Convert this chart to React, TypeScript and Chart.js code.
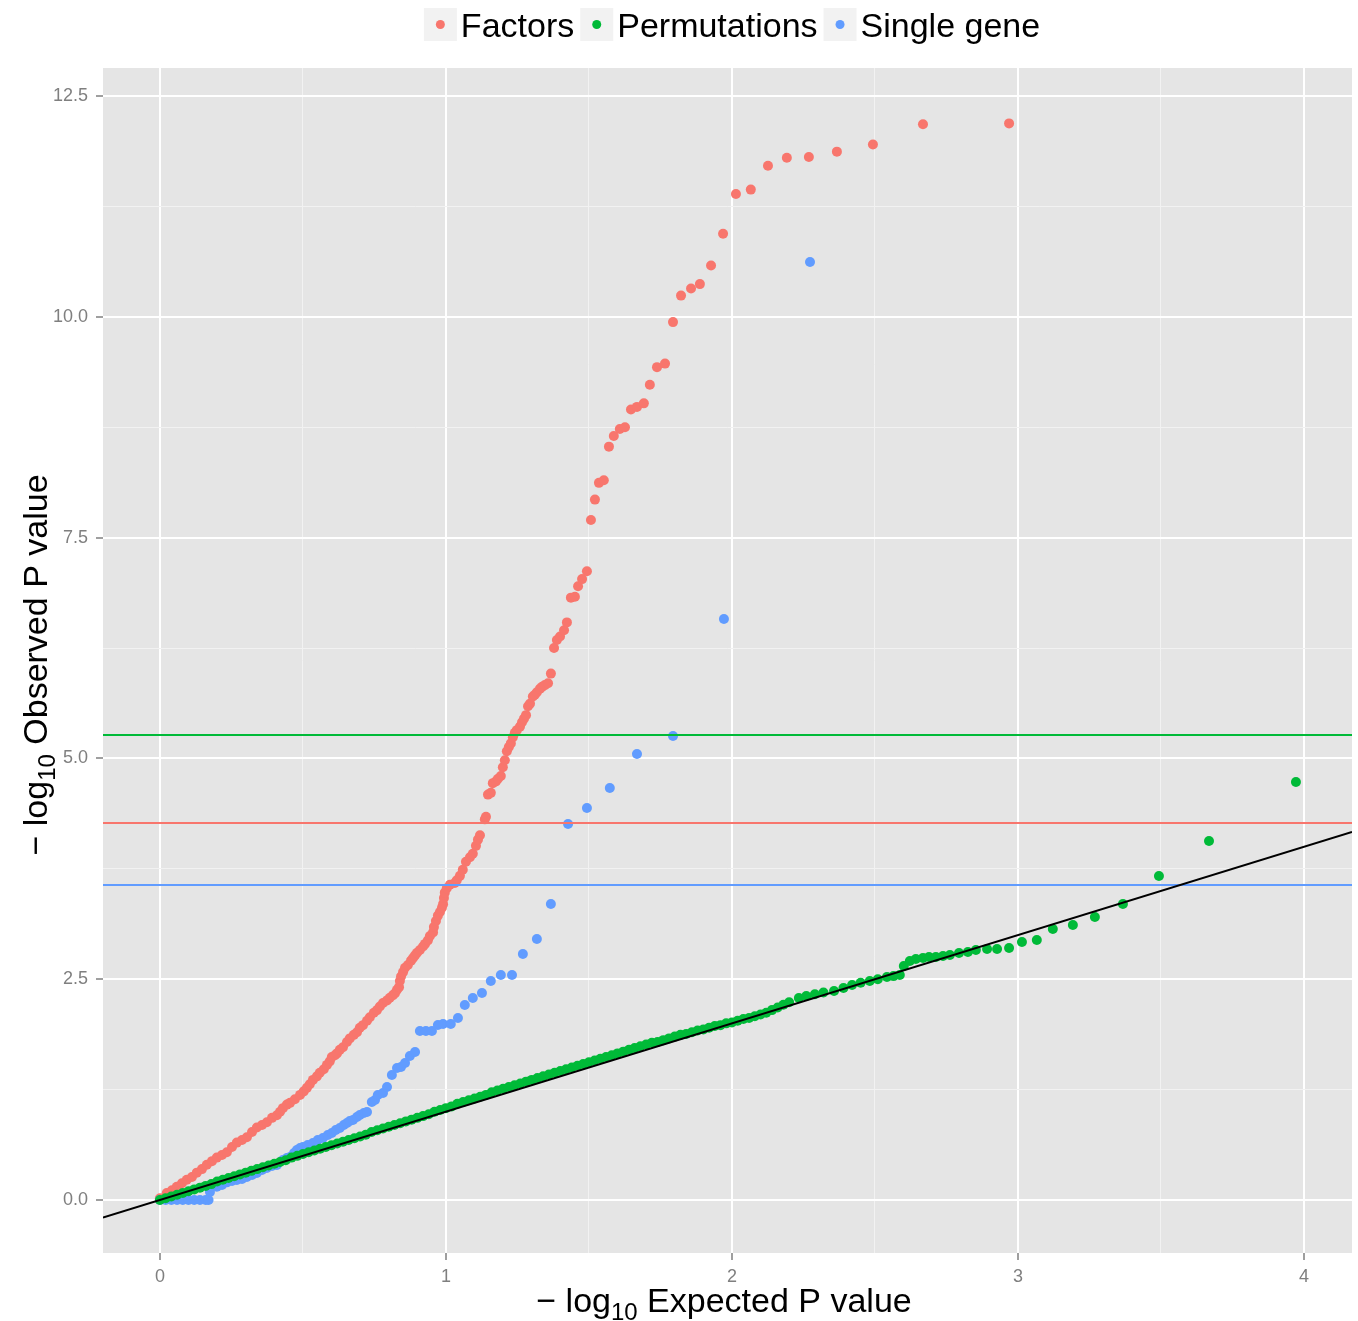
import React, { useEffect, useRef } from 'react';
import { Chart, registerables } from 'chart.js';

Chart.register(...registerables);

// ---------- data ----------
const factorsX = [
  0.0, 0.024, 0.042, 0.059, 0.077, 0.094, 0.112, 0.129, 0.147, 0.164, 0.182, 0.199, 0.217, 0.234, 0.252, 0.269,
  0.287, 0.304, 0.322, 0.339, 0.357, 0.374, 0.392, 0.409, 0.42, 0.43, 0.444, 0.455, 0.472, 0.49, 0.503, 0.514,
  0.524, 0.535, 0.549, 0.559, 0.573, 0.584, 0.594, 0.601, 0.612, 0.619, 0.629, 0.64, 0.654, 0.664, 0.678, 0.689,
  0.699, 0.71, 0.724, 0.734, 0.748, 0.759, 0.769, 0.78, 0.794, 0.804, 0.815, 0.822, 0.829, 0.836, 0.839, 0.843,
  0.85, 0.857, 0.867, 0.878, 0.885, 0.892, 0.899, 0.909, 0.92, 0.927, 0.937, 0.944, 0.955, 0.958, 0.965, 0.972,
  0.979, 0.986, 0.99, 0.993, 0.996, 1.003, 1.014, 1.031, 1.038, 1.049, 1.059, 1.07, 1.084, 1.094, 1.105, 1.112,
  1.119, 1.136, 1.14, 1.147, 1.157, 1.164, 1.175, 1.182, 1.192, 1.199, 1.206, 1.213, 1.22, 1.227, 1.234, 1.241,
  1.248, 1.259, 1.266, 1.273, 1.28, 1.287, 1.294, 1.304, 1.311, 1.318, 1.329, 1.336, 1.346, 1.357, 1.367, 1.378,
  1.388, 1.399, 1.413, 1.423, 1.437, 1.451, 1.462, 1.476, 1.493, 1.507, 1.521, 1.535, 1.552, 1.57, 1.587, 1.608,
  1.626, 1.647, 1.668, 1.692, 1.713, 1.738, 1.766, 1.794, 1.822, 1.857, 1.888, 1.927, 1.969, 2.014, 2.066, 2.126,
  2.192, 2.269, 2.367, 2.493, 2.668, 2.969,
];
const factorsY = [
  0.02, 0.08, 0.11, 0.15, 0.19, 0.23, 0.26, 0.31, 0.35, 0.4, 0.44, 0.48, 0.51, 0.54, 0.6, 0.65,
  0.68, 0.71, 0.77, 0.82, 0.85, 0.88, 0.93, 0.96, 1.0, 1.04, 1.08, 1.1, 1.14, 1.19, 1.23, 1.27,
  1.31, 1.36, 1.4, 1.44, 1.48, 1.53, 1.57, 1.62, 1.64, 1.66, 1.7, 1.73, 1.79, 1.83, 1.87, 1.9,
  1.95, 1.98, 2.03, 2.07, 2.12, 2.15, 2.19, 2.23, 2.26, 2.29, 2.32, 2.34, 2.38, 2.41, 2.48, 2.53,
  2.58, 2.63, 2.66, 2.71, 2.74, 2.77, 2.8, 2.83, 2.87, 2.9, 2.94, 2.99, 3.03, 3.09, 3.16, 3.22,
  3.26, 3.31, 3.35, 3.42, 3.48, 3.53, 3.57, 3.59, 3.62, 3.67, 3.74, 3.83, 3.88, 3.92, 4.01, 4.08,
  4.13, 4.31, 4.34, 4.59, 4.61, 4.72, 4.74, 4.77, 4.8, 4.9, 4.98, 5.08, 5.13, 5.17, 5.24, 5.29,
  5.32, 5.36, 5.41, 5.45, 5.49, 5.59, 5.62, 5.7, 5.72, 5.75, 5.79, 5.81, 5.83, 5.85, 5.96, 6.25,
  6.34, 6.38, 6.45, 6.54, 6.82, 6.83, 6.95, 7.03, 7.12, 7.7, 7.93, 8.12, 8.15, 8.53, 8.65, 8.73,
  8.75, 8.95, 8.98, 9.02, 9.23, 9.43, 9.47, 9.94, 10.24, 10.32, 10.37, 10.58, 10.94, 11.39, 11.44, 11.71,
  11.8, 11.81, 11.87, 11.95, 12.18, 12.19,
];

const singleX = [
  0.0, 0.02, 0.04, 0.06, 0.08, 0.1, 0.12, 0.14, 0.16, 0.17, 0.175, 0.199, 0.217, 0.234, 0.252, 0.269,
  0.287, 0.304, 0.322, 0.339, 0.357, 0.374, 0.392, 0.409, 0.43, 0.444, 0.455, 0.469, 0.479, 0.49, 0.5, 0.517,
  0.535, 0.552, 0.57, 0.587, 0.601, 0.615, 0.629, 0.643, 0.654, 0.664, 0.675, 0.689, 0.699, 0.713, 0.724, 0.741,
  0.752, 0.762, 0.78, 0.794, 0.811, 0.829, 0.843, 0.857, 0.874, 0.892, 0.909, 0.93, 0.951, 0.972, 0.99, 1.017,
  1.042, 1.066, 1.094, 1.126, 1.157, 1.192, 1.231, 1.269, 1.318, 1.367, 1.427, 1.493, 1.573, 1.668, 1.794, 1.972,
  2.273,
];
const singleY = [
  0, 0, 0, 0, 0, 0, 0, 0, 0, 0, 0.09, 0.15, 0.17, 0.2, 0.215, 0.226,
  0.238, 0.26, 0.283, 0.306, 0.34, 0.362, 0.385, 0.396, 0.453, 0.476, 0.487, 0.532, 0.566, 0.589, 0.6, 0.623,
  0.645, 0.679, 0.702, 0.736, 0.759, 0.793, 0.815, 0.849, 0.872, 0.894, 0.906, 0.94, 0.962, 0.985, 0.996, 1.11,
  1.132, 1.189, 1.211, 1.279, 1.415, 1.495, 1.506, 1.551, 1.63, 1.676, 1.913, 1.913, 1.913, 1.981, 1.993, 1.993,
  2.061, 2.208, 2.287, 2.344, 2.48, 2.548, 2.548, 2.785, 2.955, 3.351, 4.257, 4.438, 4.665, 5.05, 5.254, 6.578,
  10.62,
];

const permX = [
  0.0, 0.02, 0.04, 0.06, 0.08, 0.1, 0.12, 0.14, 0.16, 0.18, 0.2, 0.22, 0.24, 0.26, 0.28, 0.3,
  0.32, 0.34, 0.36, 0.38, 0.4, 0.42, 0.44, 0.46, 0.48, 0.5, 0.52, 0.54, 0.56, 0.58, 0.6, 0.62,
  0.64, 0.66, 0.68, 0.7, 0.72, 0.74, 0.76, 0.78, 0.8, 0.82, 0.84, 0.86, 0.88, 0.9, 0.92, 0.94,
  0.96, 0.98, 1.0, 1.02, 1.04, 1.06, 1.08, 1.1, 1.12, 1.14, 1.16, 1.18, 1.2, 1.22, 1.24, 1.26,
  1.28, 1.3, 1.32, 1.34, 1.36, 1.38, 1.4, 1.42, 1.44, 1.46, 1.48, 1.5, 1.52, 1.54, 1.56, 1.58,
  1.6, 1.62, 1.64, 1.66, 1.68, 1.7, 1.72, 1.74, 1.76, 1.78, 1.8, 1.82, 1.84, 1.86, 1.88, 1.9,
  1.92, 1.94, 1.96, 1.98, 2.0, 2.02, 2.04, 2.06, 2.08, 2.1, 2.12, 2.14, 2.16, 2.18, 2.2, 2.234,
  2.26, 2.29, 2.32, 2.357, 2.39, 2.42, 2.45, 2.482, 2.51, 2.542, 2.565, 2.587, 2.601, 2.622, 2.643, 2.668,
  2.689, 2.713, 2.738, 2.762, 2.794, 2.825, 2.853, 2.892, 2.927, 2.969, 3.014, 3.066, 3.122, 3.192, 3.269, 3.367,
  3.493, 3.668, 3.972,
];
const permY = [
  0.0, 0.02, 0.04, 0.06, 0.08, 0.1, 0.12, 0.14, 0.16, 0.18, 0.21, 0.23, 0.25, 0.27, 0.29, 0.31,
  0.33, 0.35, 0.37, 0.39, 0.41, 0.43, 0.45, 0.48, 0.5, 0.52, 0.54, 0.56, 0.58, 0.6, 0.62, 0.64,
  0.66, 0.68, 0.7, 0.72, 0.74, 0.77, 0.79, 0.81, 0.83, 0.85, 0.87, 0.89, 0.91, 0.93, 0.95, 0.97,
  1.0, 1.02, 1.04, 1.06, 1.09, 1.11, 1.13, 1.15, 1.17, 1.19, 1.22, 1.24, 1.26, 1.28, 1.3, 1.32,
  1.34, 1.36, 1.38, 1.4, 1.42, 1.44, 1.46, 1.48, 1.5, 1.52, 1.54, 1.56, 1.58, 1.6, 1.62, 1.64,
  1.66, 1.68, 1.7, 1.72, 1.74, 1.76, 1.78, 1.79, 1.81, 1.83, 1.85, 1.87, 1.88, 1.9, 1.92, 1.93,
  1.95, 1.97, 1.98, 2.0, 2.01, 2.03, 2.05, 2.06, 2.08, 2.1, 2.12, 2.15, 2.18, 2.21, 2.24, 2.287,
  2.31, 2.33, 2.35, 2.366, 2.4, 2.434, 2.46, 2.48, 2.5, 2.525, 2.535, 2.548, 2.649, 2.706, 2.729, 2.74,
  2.751, 2.751, 2.763, 2.774, 2.797, 2.808, 2.831, 2.842, 2.842, 2.853, 2.921, 2.944, 3.068, 3.114, 3.204, 3.351,
  3.668, 4.065, 4.733,
];

// significance thresholds (horizontal lines)
const thresholdPermutations = 5.265;
const thresholdFactors = 4.27;
const thresholdSingle = 3.567;

// axis ranges and ticks
const xMin = -0.199;
const xMax = 4.168;
const yMin = -0.6;
const yMax = 12.817;
const xMajorTicks = [0, 1, 2, 3, 4];
const xMinorTicks = [0.5, 1.5, 2.5, 3.5];
const yMajorTicks = [0, 2.5, 5, 7.5, 10, 12.5];
const yMinorTicks = [1.25, 3.75, 6.25, 8.75, 11.25];

const seriesNames = ['Factors', 'Permutations', 'Single gene'];
const seriesColors = ['#F8766D', '#00BA38', '#619CFF'];

const FONT = '"Liberation Sans", Arial, Helvetica, sans-serif';

const zip = (xs: number[], ys: number[]) => xs.map((x, i) => ({ x, y: ys[i] }));
const hline = (y: number) => [
  { x: xMin, y },
  { x: xMax, y },
];

function drawLogTitle(ctx: CanvasRenderingContext2D, rest: string, x: number, y: number, rotate: boolean) {
  const big = `34px ${FONT}`;
  const small = `24px ${FONT}`;
  const parts = [
    { t: '\u2212 log', f: big, dy: 0 },
    { t: '10', f: small, dy: 8 },
    { t: ' ' + rest, f: big, dy: 0 },
  ];
  const widths = parts.map((p) => {
    ctx.font = p.f;
    return ctx.measureText(p.t).width;
  });
  const total = widths.reduce((a, b) => a + b, 0);
  ctx.save();
  ctx.translate(x, y);
  if (rotate) ctx.rotate(-Math.PI / 2);
  ctx.fillStyle = '#000000';
  ctx.textBaseline = 'alphabetic';
  ctx.textAlign = 'left';
  let cx = -total / 2;
  parts.forEach((p, i) => {
    ctx.font = p.f;
    ctx.fillText(p.t, cx, p.dy);
    cx += widths[i];
  });
  ctx.restore();
}

const decorPlugin = {
  id: 'ggDecor',
  beforeDraw(chart: any) {
    const { ctx, chartArea } = chart;
    ctx.save();
    ctx.fillStyle = '#ffffff';
    ctx.fillRect(0, 0, chart.width, chart.height);
    ctx.fillStyle = '#E5E5E5';
    ctx.fillRect(chartArea.left, chartArea.top, chartArea.right - chartArea.left, chartArea.bottom - chartArea.top);
    ctx.restore();
  },
  afterDraw(chart: any) {
    const { ctx } = chart;
    // axis titles
    drawLogTitle(ctx, 'Expected P value', 724, 1312, false);
    drawLogTitle(ctx, 'Observed P value', 47, 665, true);
    // legend
    ctx.save();
    ctx.font = `34px ${FONT}`;
    const key = 33;
    const gapKeyText = 4;
    const gapItems = 6;
    const widths = seriesNames.map((n) => ctx.measureText(n).width);
    const total = widths.reduce((a, b) => a + b, 0) + seriesNames.length * (key + gapKeyText) + (seriesNames.length - 1) * gapItems;
    let x = 732 - total / 2;
    const top = 8;
    seriesNames.forEach((name, i) => {
      ctx.fillStyle = '#F2F2F2';
      ctx.fillRect(x, top, key, key);
      ctx.fillStyle = seriesColors[i];
      ctx.beginPath();
      ctx.arc(x + key / 2, top + key / 2, 4.5, 0, Math.PI * 2);
      ctx.fill();
      ctx.fillStyle = '#000000';
      ctx.textBaseline = 'alphabetic';
      ctx.textAlign = 'left';
      ctx.fillText(name, x + key + gapKeyText, top + key / 2 + 12);
      x += key + gapKeyText + widths[i] + gapItems;
    });
    ctx.restore();
  },
};

const isIn = (arr: number[], v: number) => arr.some((a) => Math.abs(a - v) < 1e-6);

export default function App() {
  const ref = useRef<HTMLCanvasElement | null>(null);
  useEffect(() => {
    document.body.style.margin = '0';
    const canvas = ref.current;
    if (!canvas) return;
    const pointDs = (label: string, data: any[], color: string, order: number) => ({
      label,
      data,
      backgroundColor: color,
      borderColor: color,
      pointRadius: 5,
      pointBorderWidth: 0,
      pointHoverRadius: 5,
      showLine: false,
      order,
    });
    const lineDs = (label: string, data: any[], color: string, width: number) => ({
      label,
      data,
      borderColor: color,
      backgroundColor: color,
      borderWidth: width,
      pointRadius: 0,
      showLine: true,
      fill: false,
      order: 0,
    });
    const chart = new Chart(canvas, {
      type: 'scatter',
      data: {
        datasets: [
          lineDs('yx', [{ x: xMin, y: xMin }, { x: xMax, y: xMax }], '#000000', 2),
          lineDs('thrPerm', hline(thresholdPermutations), seriesColors[1], 2),
          lineDs('thrFactors', hline(thresholdFactors), seriesColors[0], 2),
          lineDs('thrSingle', hline(thresholdSingle), seriesColors[2], 2),
          pointDs(seriesNames[1], zip(permX, permY), seriesColors[1], 1),
          pointDs(seriesNames[2], zip(singleX, singleY), seriesColors[2], 2),
          pointDs(seriesNames[0], zip(factorsX, factorsY), seriesColors[0], 3),
        ] as any,
      },
      plugins: [decorPlugin],
      options: {
        animation: false,
        responsive: false,
        maintainAspectRatio: false,
        devicePixelRatio: 1,
        events: [],
        layout: { padding: { top: 68, right: 6, left: 0, bottom: 0 } },
        plugins: { legend: { display: false }, tooltip: { enabled: false } },
        scales: {
          x: {
            type: 'linear',
            min: xMin,
            max: xMax,
            afterBuildTicks: (scale: any) => {
              scale.ticks = [...xMajorTicks, ...xMinorTicks].sort((a, b) => a - b).map((v) => ({ value: v }));
            },
            afterFit: (scale: any) => {
              scale.height = 68;
            },
            border: { display: false },
            grid: {
              color: (c: any) => (isIn(xMajorTicks, c.tick?.value) ? '#FFFFFF' : '#F2F2F2'),
              lineWidth: (c: any) => (isIn(xMajorTicks, c.tick?.value) ? 2 : 1),
              tickColor: (c: any) => (isIn(xMajorTicks, c.tick?.value) ? '#7F7F7F' : 'rgba(0,0,0,0)'),
              tickLength: 7,
              tickWidth: 1.5,
            },
            ticks: {
              autoSkip: false,
              maxRotation: 0,
              padding: 6,
              color: '#7F7F7F',
              font: { family: FONT, size: 18 },
              callback: (v: any) => (isIn(xMajorTicks, Number(v)) ? String(Number(v)) : ''),
            },
          },
          y: {
            type: 'linear',
            min: yMin,
            max: yMax,
            afterBuildTicks: (scale: any) => {
              scale.ticks = [...yMajorTicks, ...yMinorTicks].sort((a, b) => a - b).map((v) => ({ value: v }));
            },
            afterFit: (scale: any) => {
              scale.width = 103;
            },
            border: { display: false },
            grid: {
              color: (c: any) => (isIn(yMajorTicks, c.tick?.value) ? '#FFFFFF' : '#F2F2F2'),
              lineWidth: (c: any) => (isIn(yMajorTicks, c.tick?.value) ? 2 : 1),
              tickColor: (c: any) => (isIn(yMajorTicks, c.tick?.value) ? '#7F7F7F' : 'rgba(0,0,0,0)'),
              tickLength: 7,
              tickWidth: 1.5,
            },
            ticks: {
              autoSkip: false,
              padding: 8,
              color: '#7F7F7F',
              font: { family: FONT, size: 18 },
              callback: (v: any) => (isIn(yMajorTicks, Number(v)) ? Number(v).toFixed(1) : ''),
            },
          },
        },
      } as any,
    });
    return () => chart.destroy();
  }, []);
  return <canvas ref={ref} width={1358} height={1321} style={{ display: 'block' }} />;
}
